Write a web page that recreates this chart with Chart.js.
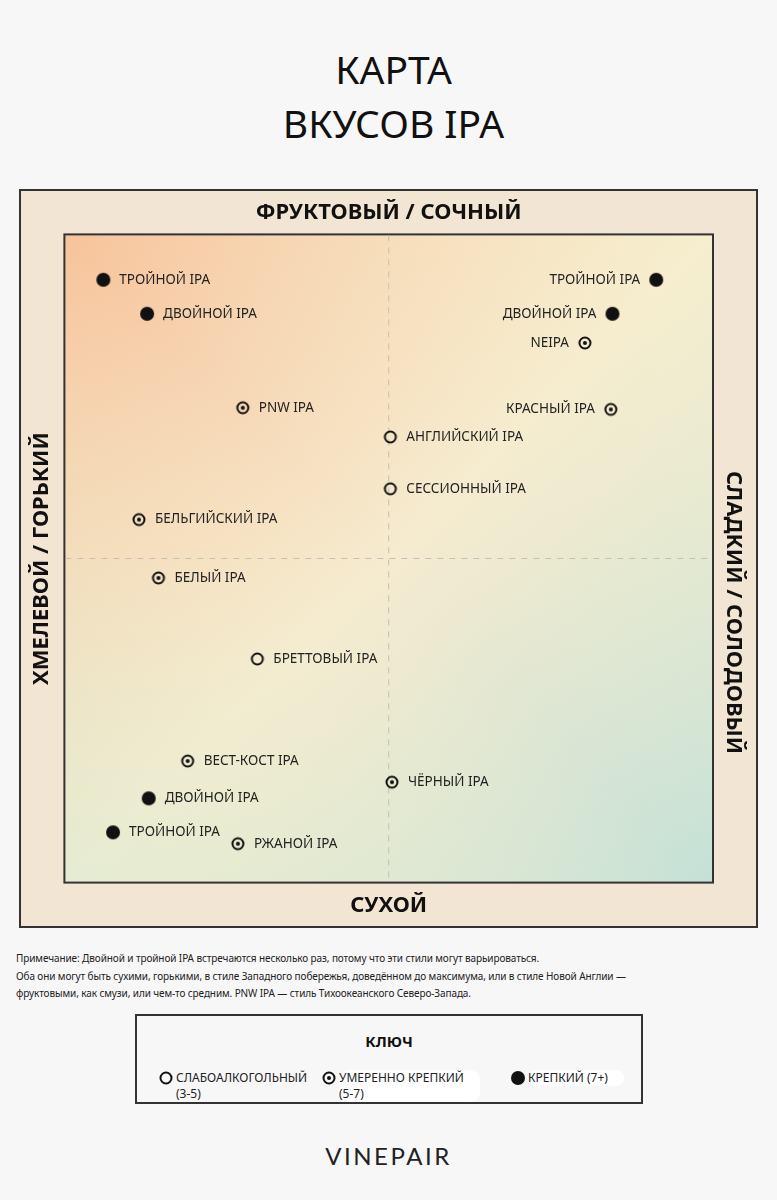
<!DOCTYPE html>
<html lang="ru">
<head>
<meta charset="utf-8">
<title>Карта вкусов IPA</title>
<script src="https://cdn.jsdelivr.net/npm/chart.js@4.4.1/dist/chart.umd.min.js"></script>
<style>
  html, body { margin: 0; padding: 0; }
  body {
    width: 777px; height: 1200px; position: relative; overflow: hidden;
    background: #f8f7f8; color: #111;
    font-family: "Noto Sans", "Open Sans", sans-serif;
  }
  #title {
    position: absolute; left: 5px; top: 42px; width: 777px;
    text-align: center; font-size: 39px; line-height: 54px; font-weight: 400;
  }
  #frame { position: absolute; left: 19px; top: 189px; }
  #note {
    position: absolute; left: 16px; top: 950px; width: 740px;
    font-size: 10px; line-height: 17.5px; color: #222; letter-spacing: -0.1px;
  }
  #key {
    position: absolute; left: 135px; top: 1014px; width: 504px; height: 86px;
    border: 2px solid #333;
  }
  #key .head {
    position: absolute; left: 0; top: 15px; width: 100%; text-align: center;
    font-weight: 700; font-size: 15px;
  }
  #key .item { position: absolute; top: 54px; font-size: 12px; line-height: 16px; color: #222; }
  #key .item canvas { position: absolute; left: -8px; top: 0; }
  #key .item .txt { position: absolute; left: 10px; top: 0; white-space: nowrap; border-radius: 10px; padding-right: 16px; }
  #logo {
    position: absolute; left: 0; top: 1141px; width: 777px; text-align: center;
    font-family: Lato, "Noto Sans", sans-serif; font-weight: 400; font-size: 24px; letter-spacing: 2.5px; color: #222;
  }
</style>
</head>
<body>
<div id="title">КАРТА<br>ВКУСОВ IPA</div>
<canvas id="frame" width="739" height="739"></canvas>
<div id="note">Примечание: Двойной и тройной IPA встречаются несколько раз, потому что эти стили могут варьироваться.<br>Оба они могут быть сухими, горькими, в стиле Западного побережья, доведённом до максимума, или в стиле Новой Англии —<br>фруктовыми, как смузи, или чем-то средним. PNW IPA — стиль Тихоокеанского Северо-Запада.</div>
<div id="key"><div class="head">КЛЮЧ</div></div>
<div id="logo">VINEPAIR</div>
<script>
// оси: x — горький (-10) … сладкий (+10), y — сухой (-10) … фруктовый (+10)
const axisTop = 'ФРУКТОВЫЙ / СОЧНЫЙ';
const axisBottom = 'СУХОЙ';
const axisLeft = 'ХМЕЛЕВОЙ / ГОРЬКИЙ';
const axisRight = 'СЛАДКИЙ / СОЛОДОВЫЙ';

const strengthNames = ['СЛАБОАЛКОГОЛЬНЫЙ', 'УМЕРЕННО КРЕПКИЙ', 'КРЕПКИЙ (7+)'];
const strengthRanges = ['(3-5)', '(5-7)', ''];

// слабоалкогольные
const lightNames = ['АНГЛИЙСКИЙ IPA', 'СЕССИОННЫЙ IPA', 'БРЕТТОВЫЙ IPA'];
const lightX = [0.05, 0.05, -4.05];
const lightY = [3.75, 2.15, -3.1];

// умеренно крепкие
const midNames = ['PNW IPA', 'БЕЛЬГИЙСКИЙ IPA', 'БЕЛЫЙ IPA', 'ВЕСТ-КОСТ IPA', 'РЖАНОЙ IPA', 'ЧЁРНЫЙ IPA', 'NEIPA', 'КРАСНЫЙ IPA'];
const midX = [-4.5, -7.7, -7.1, -6.2, -4.65, 0.1, 6.05, 6.85];
const midY = [4.65, 1.2, -0.6, -6.25, -8.8, -6.9, 6.65, 4.6];

// крепкие
const strongNames = ['ТРОЙНОЙ IPA', 'ДВОЙНОЙ IPA', 'ДВОЙНОЙ IPA', 'ТРОЙНОЙ IPA', 'ТРОЙНОЙ IPA', 'ДВОЙНОЙ IPA'];
const strongX = [-8.8, -7.45, -7.4, -8.5, 8.25, 6.9];
const strongY = [8.6, 7.55, -7.4, -8.45, 8.6, 7.55];

function pts(xs, ys) {
  return xs.map((x, i) => ({ x: x, y: ys[i] }));
}

function makeIcon(kind) {
  const c = document.createElement('canvas');
  c.width = 16; c.height = 16;
  const g = c.getContext('2d');
  g.fillStyle = '#111';
  g.strokeStyle = '#111';
  g.lineWidth = 2;
  g.beginPath();
  if (kind === 2) {
    g.arc(8, 8, 7, 0, Math.PI * 2);
    g.fill();
  } else {
    g.arc(8, 8, 5.5, 0, Math.PI * 2);
    g.stroke();
    if (kind === 1) {
      g.beginPath();
      g.arc(8, 8, 2, 0, Math.PI * 2);
      g.fill();
    }
  }
  return c;
}

const labelNames = [lightNames, midNames, strongNames];
const titleFont = { family: '"Noto Sans", sans-serif', size: 22, weight: 'bold' };

const framePlugin = {
  id: 'frame',
  beforeDraw(chart) {
    const { ctx, chartArea: a, width, height } = chart;
    const w = a.right - a.left, h = a.bottom - a.top;
    ctx.save();
    ctx.fillStyle = '#f3e5d3';
    ctx.fillRect(0, 0, width, height);
    ctx.strokeStyle = '#333';
    ctx.lineWidth = 2;
    ctx.strokeRect(1, 1, width - 2, height - 2);

    const grad = ctx.createLinearGradient(a.left, a.top, a.right, a.bottom);
    grad.addColorStop(0, '#f7c39b');
    grad.addColorStop(0.5, '#f6ebcf');
    grad.addColorStop(1, '#c4e1d7');
    ctx.fillStyle = grad;
    ctx.fillRect(a.left, a.top, w, h);
    // лёгкий сдвиг по второй диагонали: жёлтый вверху справа, зелёный внизу слева
    const g2 = ctx.createLinearGradient(a.right, a.top, a.left, a.bottom);
    g2.addColorStop(0, 'rgba(246,242,205,0.45)');
    g2.addColorStop(0.5, 'rgba(246,242,205,0)');
    g2.addColorStop(1, 'rgba(214,236,214,0.55)');
    ctx.fillStyle = g2;
    ctx.fillRect(a.left, a.top, w, h);
    ctx.strokeRect(a.left, a.top, w, h);

    const cx = chart.scales.x.getPixelForValue(0);
    const cy = chart.scales.y.getPixelForValue(0);
    ctx.strokeStyle = '#c7bfb4';
    ctx.lineWidth = 1;
    ctx.setLineDash([6, 6]);
    ctx.beginPath();
    ctx.moveTo(cx, a.top + 1); ctx.lineTo(cx, a.bottom - 1);
    ctx.moveTo(a.left + 1, cy); ctx.lineTo(a.right - 1, cy);
    ctx.stroke();
    ctx.restore();
  },
  afterDraw(chart) {
    // правая подпись стоит ниже центра, как в оригинале
    const { ctx, chartArea: a } = chart;
    const s = chart.scales.y2;
    ctx.save();
    ctx.translate(s.right - 25, chart.scales.y.getPixelForValue(0) + 54);
    ctx.rotate(Math.PI / 2);
    ctx.font = 'bold 22px "Noto Sans", sans-serif';
    ctx.fillStyle = '#111';
    ctx.textAlign = 'center';
    ctx.textBaseline = 'middle';
    ctx.fillText(axisRight, 0, 0);
    ctx.restore();
  }
};

const labelPlugin = {
  id: 'pointLabels',
  afterDatasetsDraw(chart) {
    const { ctx } = chart;
    ctx.save();
    ctx.font = '13.5px "Noto Sans", sans-serif';
    ctx.fillStyle = '#222';
    ctx.textBaseline = 'middle';
    chart.data.datasets.forEach((ds, di) => {
      chart.getDatasetMeta(di).data.forEach((el, i) => {
        const onRight = ds.data[i].x > 3;
        ctx.textAlign = onRight ? 'right' : 'left';
        ctx.fillText(labelNames[di][i], el.x + (onRight ? -16 : 16), el.y);
      });
    });
    ctx.restore();
  }
};

function axis(pos, text, pad) {
  return {
    type: 'linear', position: pos, min: -10, max: 10,
    ticks: { display: false },
    grid: { display: false, drawTicks: false },
    border: { display: false },
    title: { display: !!text, text: text, color: '#111', font: titleFont, padding: pad }
  };
}

new Chart(document.getElementById('frame'), {
  type: 'scatter',
  data: {
    datasets: [
      {
        label: strengthNames[0], data: pts(lightX, lightY),
        pointStyle: makeIcon(0), pointRadius: 8, pointHoverRadius: 8
      },
      {
        label: strengthNames[1], data: pts(midX, midY),
        pointStyle: makeIcon(1), pointRadius: 8, pointHoverRadius: 8
      },
      {
        label: strengthNames[2], data: pts(strongX, strongY),
        pointStyle: makeIcon(2), pointRadius: 8, pointHoverRadius: 8
      }
    ]
  },
  options: {
    responsive: false,
    animation: false,
    layout: { padding: 0, autoPadding: false },
    plugins: { legend: { display: false }, tooltip: { enabled: false } },
    scales: {
      x: axis('bottom', axisBottom, { top: 10, bottom: 9 }),
      x2: Object.assign(axis('top', axisTop, { top: 11, bottom: 8 }), { axis: 'x' }),
      y: axis('left', axisLeft, { top: 10, bottom: 9 }),
      y2: Object.assign(axis('right', '', 0), {
        axis: 'y',
        afterFit(scale) { scale.width = 45; }
      })
    }
  },
  plugins: [framePlugin, labelPlugin]
});

// ключ
const key = document.getElementById('key');
const keyLeft = [29, 192, 381];
strengthNames.forEach((name, i) => {
  const item = document.createElement('div');
  item.className = 'item';
  item.style.left = keyLeft[i] + 'px';
  item.appendChild(makeIcon(i));
  const t = document.createElement('div');
  t.className = 'txt';
  if (i > 0) t.style.background = '#fff';
  t.innerHTML = name + (strengthRanges[i] ? '<br>' + strengthRanges[i] : '');
  item.appendChild(t);
  key.appendChild(item);
});
</script>
</body>
</html>
